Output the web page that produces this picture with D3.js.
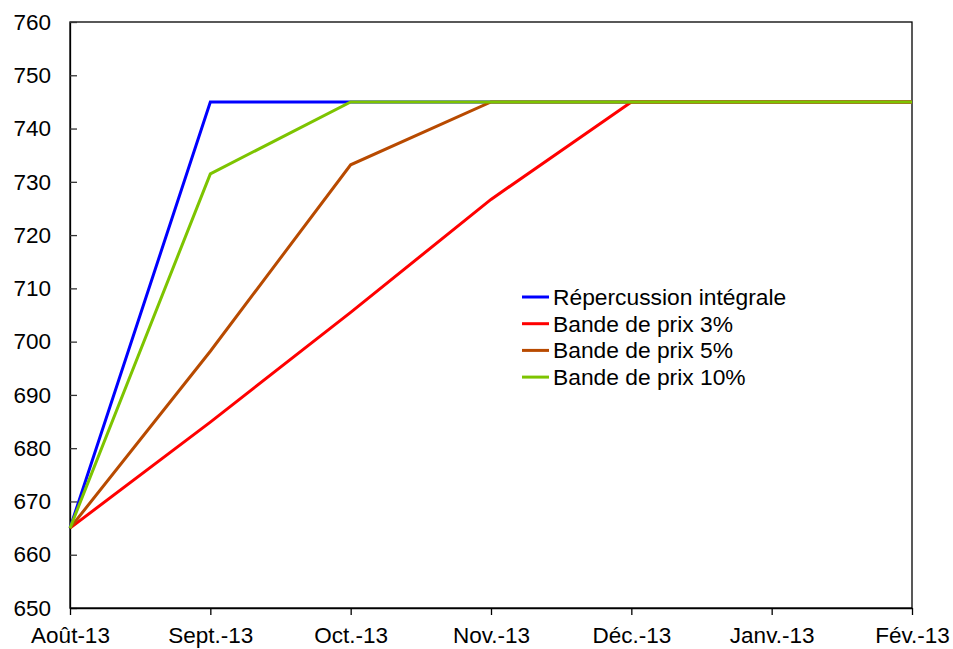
<!DOCTYPE html>
<html>
<head>
<meta charset="utf-8">
<script src="https://cdn.jsdelivr.net/npm/d3@7"></script>
<style>
  body { margin: 0; background: #fff; }
  text { font-family: "Liberation Sans", Arial, sans-serif; fill: #000; }
</style>
</head>
<body>
<svg id="chart" width="953" height="649"></svg>
<script>
// Months (x categories)
const months = ["Août-13", "Sept.-13", "Oct.-13", "Nov.-13", "Déc.-13", "Janv.-13", "Fév.-13"];

// Price path under each scenario
const repercussion = [665, 745, 745, 745, 745, 745, 745];
const bande3 = [665, 684.9, 705.5, 726.7, 745, 745, 745];
const bande5 = [665, 698.2, 733.2, 745, 745, 745, 745];
const bande10 = [665, 731.5, 745, 745, 745, 745, 745];

const seriesNames = ["Répercussion intégrale", "Bande de prix 3%", "Bande de prix 5%", "Bande de prix 10%"];
const seriesColors = ["#0000FF", "#FF0000", "#B84A00", "#7DC400"];
const seriesValues = [repercussion, bande3, bande5, bande10];

const yTicks = [650, 660, 670, 680, 690, 700, 710, 720, 730, 740, 750, 760];

const W = 953, H = 649;
const margin = { top: 22, right: 41, bottom: 41, left: 70 };
const iw = W - margin.left - margin.right;
const ih = H - margin.top - margin.bottom;

const svg = d3.select("#chart");
const g = svg.append("g").attr("transform", `translate(${margin.left},${margin.top})`);

const x = d3.scalePoint().domain(months).range([0, iw]);
const y = d3.scaleLinear().domain([650, 760]).range([ih, 0]);

// Plot area frame
g.append("rect")
  .attr("x", 0).attr("y", 0).attr("width", iw).attr("height", ih)
  .attr("fill", "none").attr("stroke", "#000").attr("stroke-width", 1.3);

// Y axis: ticks pointing inward
const yAxis = g.append("g")
  .call(d3.axisLeft(y).tickValues(yTicks).tickSizeInner(-7).tickSizeOuter(0).tickPadding(19));
yAxis.select(".domain").attr("stroke", "#000").attr("stroke-width", 1.3);
yAxis.selectAll(".tick line").attr("stroke", "#333").attr("stroke-width", 1.3);
yAxis.selectAll("text").style("font-size", "22.5px").attr("fill", "#000");

// X axis: ticks pointing outward
const xAxis = g.append("g")
  .attr("transform", `translate(0,${ih})`)
  .call(d3.axisBottom(x).tickSizeInner(7).tickSizeOuter(0).tickPadding(12));
xAxis.select(".domain").attr("stroke", "#000").attr("stroke-width", 1.3);
xAxis.selectAll(".tick line").attr("stroke", "#000").attr("stroke-width", 1.3);
xAxis.selectAll("text").style("font-size", "22.5px").attr("fill", "#000");

// Series lines
const line = d3.line()
  .x((d, i) => x(months[i]))
  .y(d => y(d));

seriesValues.forEach((vals, k) => {
  g.append("path")
    .datum(vals)
    .attr("fill", "none")
    .attr("stroke", seriesColors[k])
    .attr("stroke-width", 3)
    .attr("stroke-linejoin", "miter")
    .attr("d", line);
});

// Legend
const legend = svg.append("g").attr("transform", "translate(522,297)");
seriesNames.forEach((name, k) => {
  const row = legend.append("g").attr("transform", `translate(0,${k * 26.7})`);
  row.append("line")
    .attr("x1", 0).attr("x2", 27).attr("y1", 0).attr("y2", 0)
    .attr("stroke", seriesColors[k]).attr("stroke-width", 3);
  row.append("text")
    .attr("x", 31).attr("y", 0).attr("dy", "0.35em")
    .style("font-size", "22.8px")
    .text(name);
});
</script>
</body>
</html>
